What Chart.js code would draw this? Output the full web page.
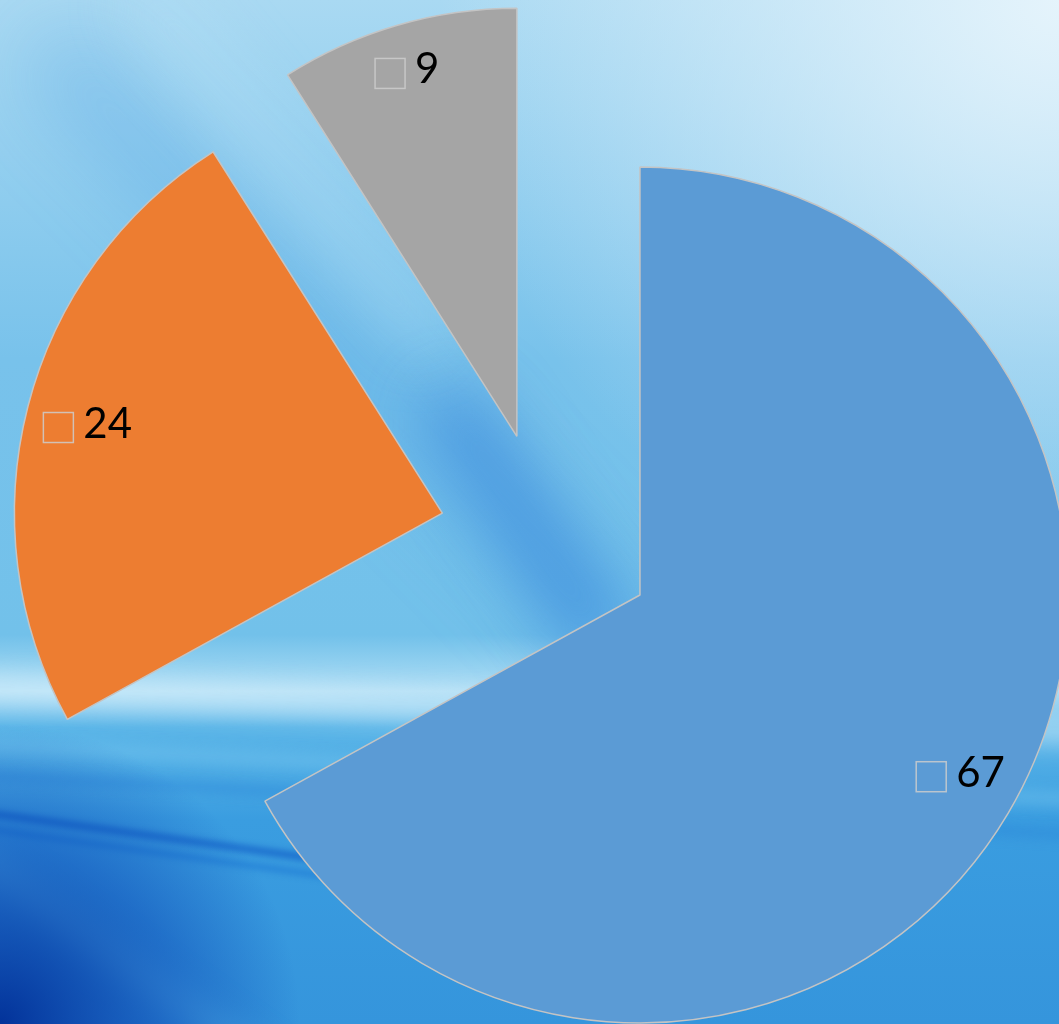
<!DOCTYPE html>
<html>
<head>
<meta charset="utf-8">
<script src="https://cdn.jsdelivr.net/npm/chart.js@4/dist/chart.umd.min.js"></script>
<style>
  html, body { margin: 0; padding: 0; background: #5ab4e6; }
  body { width: 1059px; height: 1024px; overflow: hidden; }
  canvas { display: block; }
</style>
</head>
<body>
<canvas id="myChart" width="1059" height="1024"></canvas>
<script>
let sliceNames=['Series 1','Series 2','Series 3'];
let sliceValues=[67,24,9];
let sliceColors=['#5b9bd5','#ed7d31','#a5a5a5'];

let explode=108;
// where each value label sits, as part of the radius
let labelSpot=[0.857,0.857,0.887];
let labelTurn=-0.9*Math.PI/180;

function streak(ctx,x1,y1,x2,y2,w,color,blur){
  ctx.save();
  ctx.filter='blur('+blur+'px)';
  ctx.strokeStyle=color;
  ctx.lineWidth=w;
  ctx.lineCap='round';
  ctx.beginPath();
  ctx.moveTo(x1,y1);
  ctx.lineTo(x2,y2);
  ctx.stroke();
  ctx.restore();
}

// blue abstract backdrop behind the pie
const backdrop={
  id:'backdrop',
  beforeDraw(chart){
    let ctx=chart.ctx;
    let W=chart.width, H=chart.height;
    ctx.save();
    let g=ctx.createLinearGradient(0,0,0,H);
    g.addColorStop(0,'#a9d9f2');
    g.addColorStop(0.35,'#78c2eb');
    g.addColorStop(0.62,'#72c1ea');
    g.addColorStop(0.675,'#b0def5');
    g.addColorStop(0.71,'#5cb6e8');
    g.addColorStop(0.8,'#3a9de0');
    g.addColorStop(1,'#3595dc');
    ctx.fillStyle=g;
    ctx.fillRect(0,0,W,H);

    let r=ctx.createRadialGradient(W,0,0,W,0,620);
    r.addColorStop(0,'rgba(232,245,252,0.95)');
    r.addColorStop(1,'rgba(232,245,252,0)');
    ctx.fillStyle=r;
    ctx.fillRect(0,0,W,H);

    streak(ctx,70,70,620,640,80,'rgba(70,155,225,0.3)',40);
    streak(ctx,460,420,590,620,70,'rgba(40,120,215,0.45)',30);
    streak(ctx,150,0,420,330,50,'rgba(190,228,248,0.3)',30);
    streak(ctx,-20,688,1080,730,26,'rgba(215,240,252,0.6)',12);
    streak(ctx,-20,745,1080,800,14,'rgba(120,200,240,0.45)',7);
    streak(ctx,-20,775,1080,835,10,'rgba(40,130,215,0.45)',6);
    streak(ctx,-20,812,700,912,7,'rgba(10,85,195,0.65)',3);
    streak(ctx,-20,828,700,928,6,'rgba(20,110,210,0.5)',3);
    streak(ctx,-20,860,260,1060,28,'rgba(95,195,240,0.5)',15);

    let d=ctx.createRadialGradient(0,H,0,0,H,300);
    d.addColorStop(0,'rgba(0,45,150,0.95)');
    d.addColorStop(0.6,'rgba(10,70,180,0.5)');
    d.addColorStop(1,'rgba(10,70,180,0)');
    ctx.fillStyle=d;
    ctx.fillRect(0,0,W,H);
    ctx.restore();
  }
};

// push every slice out from the middle (exploded pie)
const explodeSlices={
  id:'explodeSlices',
  afterUpdate(chart){
    let meta=chart.getDatasetMeta(0);
    meta.data.forEach(function(arc){
      let mid=(arc.startAngle+arc.endAngle)/2;
      arc.x+=Math.cos(mid)*explode;
      arc.y+=Math.sin(mid)*explode;
    });
  }
};

// value labels with a small empty key box
const valueLabels={
  id:'valueLabels',
  afterDatasetsDraw(chart){
    let ctx=chart.ctx;
    let meta=chart.getDatasetMeta(0);
    ctx.save();
    ctx.font='42px Lato';
    ctx.textBaseline='alphabetic';
    meta.data.forEach(function(arc,i){
      let mid=(arc.startAngle+arc.endAngle)/2+labelTurn;
      let dist=arc.outerRadius*labelSpot[i];
      let cx=arc.x+Math.cos(mid)*dist;
      let cy=arc.y+Math.sin(mid)*dist;
      let txt=String(sliceValues[i]);
      let box=30, gap=10;
      let w=box+gap+ctx.measureText(txt).width;
      let left=cx-w/2+2;
      ctx.strokeStyle='rgba(205,205,205,0.85)';
      ctx.lineWidth=1.5;
      ctx.strokeRect(left,cy-box/2,box,box);
      ctx.fillStyle='#000';
      ctx.fillText(txt,left+box+gap,cy+10);
    });
    ctx.restore();
  }
};

let ctx=document.getElementById('myChart').getContext('2d');
let chart=new Chart(ctx,{
  type:'pie',
  data:{
    labels:sliceNames,
    datasets:[{
      data:sliceValues,
      backgroundColor:sliceColors,
      borderColor:'#c4c4c4',
      borderWidth:1.5,
      radius:428,
      clip:false
    }]
  },
  options:{
    responsive:false,
    animation:false,
    layout:{padding:{left:35,top:56,right:0,bottom:0}},
    plugins:{legend:{display:false},tooltip:{enabled:false}}
  },
  plugins:[backdrop,explodeSlices,valueLabels]
});
</script>
</body>
</html>
